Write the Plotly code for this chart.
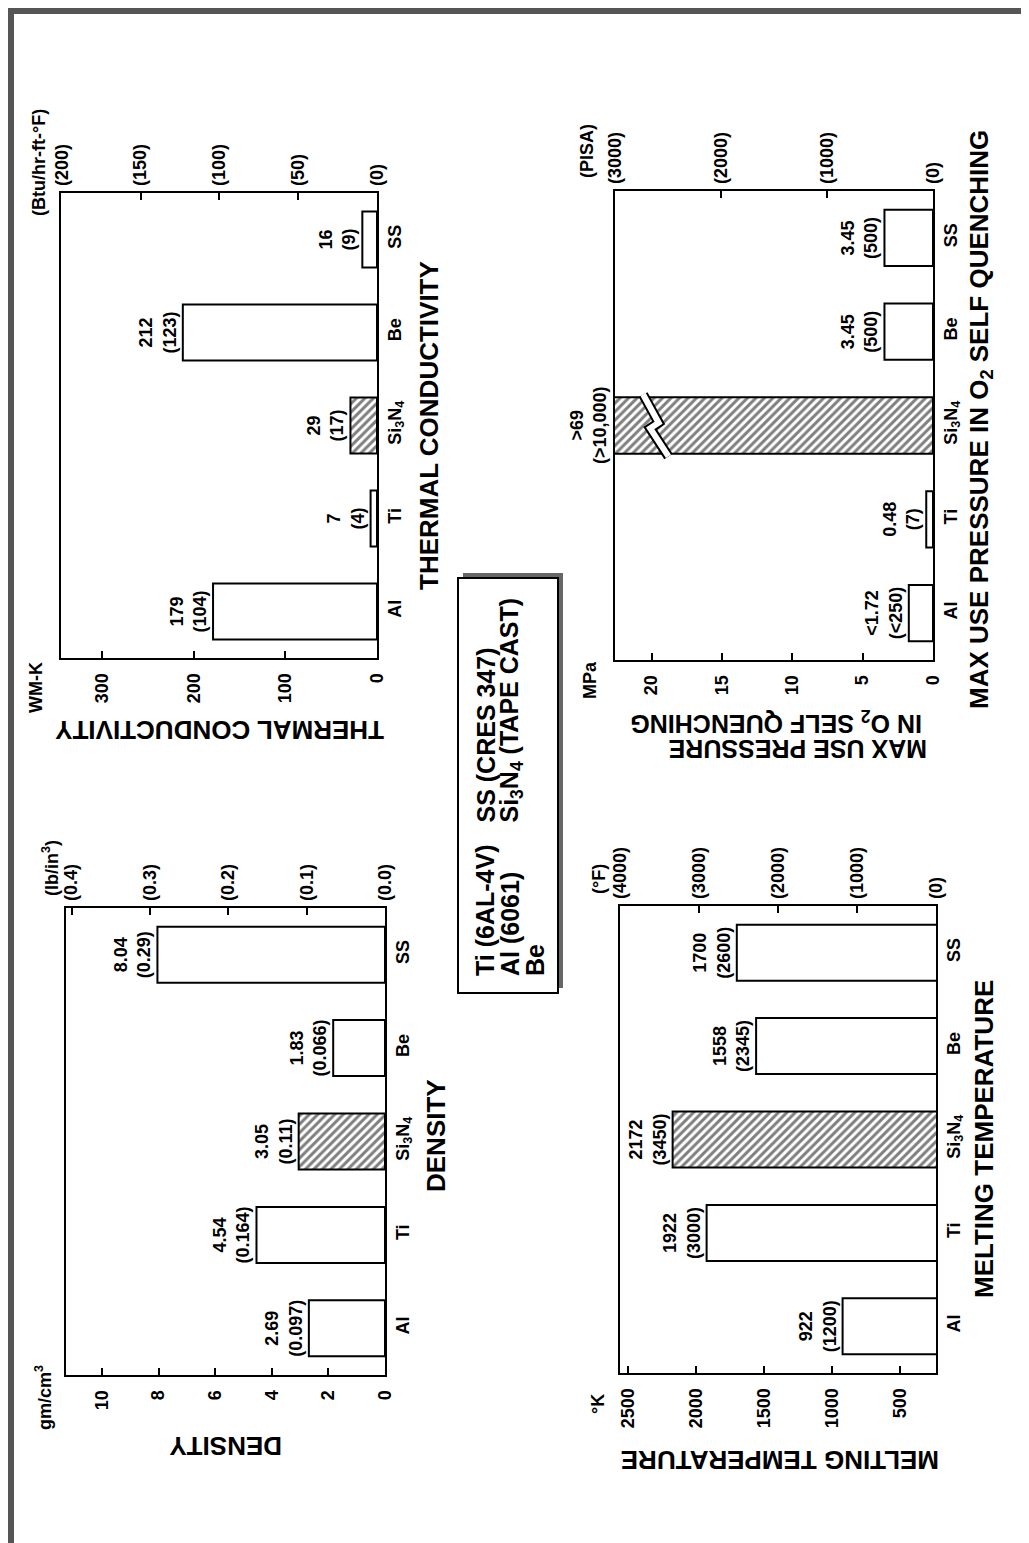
import plotly.graph_objects as go

W, H = 1029, 1543
FONT = "Liberation Sans"

# ---------------- data ----------------
materials = ["Al", "Ti", "Si<sub>3</sub>N<sub>4</sub>", "Be", "SS"]
cat_pos = [0, 1, 2, 3, 4]
hatch = ["", "", "/", "", ""]

density_gcc = [2.69, 4.54, 3.05, 1.83, 8.04]
density_lbin3 = [0.097, 0.164, 0.11, 0.066, 0.29]
density_txt = ["2.69", "4.54", "3.05", "1.83", "8.04"]
density_txt2 = ["(0.097)", "(0.164)", "(0.11)", "(0.066)", "(0.29)"]

conduct_wmk = [179, 7, 29, 212, 16]
conduct_btu = [104, 4, 17, 123, 9]
conduct_txt = ["179", "7", "29", "212", "16"]
conduct_txt2 = ["(104)", "(4)", "(17)", "(123)", "(9)"]

melt_k = [922, 1922, 2172, 1558, 1700]
melt_f = [1200, 3000, 3450, 2345, 2600]
melt_txt = ["922", "1922", "2172", "1558", "1700"]
melt_txt2 = ["(1200)", "(3000)", "(3450)", "(2345)", "(2600)"]

press_mpa = [1.72, 0.48, 69, 3.45, 3.45]
press_psi = [250, 7, 10000, 500, 500]
press_txt = ["<1.72", "0.48", ">69", "3.45", "3.45"]
press_txt2 = ["(<250)", "(7)", "(>10,000)", "(500)", "(500)"]
press_break = 19.7

# tick values / labels
conduct_ticks = [0, 100, 200, 300]
conduct_ticks2 = [0, 50, 100, 150, 200]
conduct_ticktext2 = ["(0)", "(50)", "(100)", "(150)", "(200)"]

density_ticks = [0, 2, 4, 6, 8, 10]
density_ticks2 = [0.0, 0.1, 0.2, 0.3, 0.4]
density_ticktext2 = ["(0.0)", "(0.1)", "(0.2)", "(0.3)", "(0.4)"]

melt_ticks = [500, 1000, 1500, 2000, 2500]
melt_ticks2 = [0, 1000, 2000, 3000, 4000]
melt_ticktext2 = ["(0)", "(1000)", "(2000)", "(3000)", "(4000)"]

press_ticks = [0, 5, 10, 15, 20]
press_ticks2 = [0, 1000, 2000, 3000]
press_ticktext2 = ["(0)", "(1000)", "(2000)", "(3000)"]


def fx(px):
    return px / W


def fy(py):
    return 1 - py / H


def bold(size):
    return dict(family=FONT, size=size, color="black", weight="bold")


panels = [
    dict(box=(53, 185, 369, 650), vals=conduct_wmk, vals2=conduct_btu,
         txt=conduct_txt, txt2=conduct_txt2, rng=[345, 0], rng2=[200.5, 0],
         ticks=conduct_ticks, ticks2=conduct_ticks2, ticktext2=conduct_ticktext2,
         textpos=["outside"] * 5),
    dict(box=(607, 183, 925, 652), vals=press_mpa, vals2=press_psi,
         txt=press_txt, txt2=press_txt2, rng=[22.6, 0], rng2=[3005, 0],
         ticks=press_ticks, ticks2=press_ticks2, ticktext2=press_ticktext2,
         textpos=["outside", "outside", "none", "outside", "outside"]),
    dict(box=(58, 900, 377, 1367), vals=density_gcc, vals2=density_lbin3,
         txt=density_txt, txt2=density_txt2, rng=[11.27, 0], rng2=[11.27 / 27.68, 0],
         ticks=density_ticks, ticks2=density_ticks2, ticktext2=density_ticktext2,
         textpos=["outside"] * 5),
    dict(box=(612, 898, 928, 1365), vals=melt_k, vals2=melt_f,
         txt=melt_txt, txt2=melt_txt2, rng=[2559, 235], rng2=[4002, 0],
         ticks=melt_ticks, ticks2=melt_ticks2, ticktext2=melt_ticktext2,
         textpos=["outside"] * 5),
]

fig = go.Figure()
layout = dict(width=W, height=H, autosize=False, margin=dict(l=0, r=0, t=0, b=0),
              paper_bgcolor="white", plot_bgcolor="white", showlegend=False,
              font=dict(family=FONT, color="black"))

for i, p in enumerate(panels, start=1):
    sfx = "" if i == 1 else str(i)
    s2 = str(i + 4)
    x0, y0, x1, y1 = p["box"]
    labels = [a + "<br>" + b for a, b in zip(p["txt"], p["txt2"])]
    fig.add_trace(go.Bar(
        x=p["vals"], y=cat_pos, orientation="h", width=0.6,
        xaxis="x" + sfx, yaxis="y" + sfx,
        marker=dict(color="white", line=dict(color="black", width=2),
                    pattern=dict(shape=hatch, fgcolor="black", bgcolor="white",
                                 size=6, solidity=0.5)),
        text=labels, textposition=p["textpos"], textangle=-90,
        constraintext="none", textfont=bold(18), hoverinfo="skip"))
    fig.add_trace(go.Scatter(
        x=p["vals2"], y=cat_pos, xaxis="x" + s2, yaxis="y" + sfx,
        mode="markers", marker=dict(opacity=0), hoverinfo="skip"))

    layout["xaxis" + sfx] = dict(
        domain=[fx(x0), fx(x1)], range=p["rng"], anchor="y" + sfx, side="bottom",
        showline=True, linecolor="black", linewidth=2, mirror=True,
        ticks="inside", ticklen=7, tickwidth=2, tickcolor="black",
        tickmode="array", tickvals=p["ticks"], ticktext=[str(t) for t in p["ticks"]],
        tickangle=-90, tickfont=bold(18), ticklabelstandoff=6,
        showgrid=False, zeroline=False, automargin=False, fixedrange=True)
    layout["xaxis" + s2] = dict(
        overlaying="x" + sfx, anchor="y" + sfx, side="top", range=p["rng2"],
        showline=False, ticks="inside", ticklen=7, tickwidth=2, tickcolor="black",
        tickmode="array", tickvals=p["ticks2"], ticktext=p["ticktext2"],
        tickangle=-90, tickfont=bold(18), ticklabelstandoff=6,
        showgrid=False, zeroline=False, automargin=False, fixedrange=True)
    layout["yaxis" + sfx] = dict(
        domain=[fy(y1), fy(y0)], anchor="x" + sfx, side="right", range=[-0.5, 4.5],
        showline=True, linecolor="black", linewidth=2, mirror=True, ticks="",
        tickmode="array", tickvals=cat_pos, ticktext=materials, tickangle=-90,
        tickfont=bold(18), ticklabelstandoff=0,
        showgrid=False, zeroline=False, automargin=False, fixedrange=True)

# break mark on the off-scale Si3N4 pressure bar
zz_x = [press_break + 0.9, press_break - 0.2, press_break + 0.4, press_break - 0.9]
zz_y = [2.33, 2.03, 1.97, 1.67]
fig.add_trace(go.Scatter(x=zz_x, y=zz_y, xaxis="x2", yaxis="y2", mode="lines",
                         line=dict(color="black", width=10), hoverinfo="skip"))
fig.add_trace(go.Scatter(x=zz_x, y=zz_y, xaxis="x2", yaxis="y2", mode="lines",
                         line=dict(color="white", width=6), hoverinfo="skip"))

ann = []


def note(text, x, y, angle, size, xanchor="center", yanchor="middle"):
    ann.append(dict(text=text, x=fx(x), y=fy(y), xref="paper", yref="paper",
                    showarrow=False, textangle=angle, font=bold(size),
                    xanchor=xanchor, yanchor=yanchor))


# label of the off-scale bar
ann.append(dict(text=press_txt[2] + "<br>" + press_txt2[2], x=panels[1]["rng"][0], y=2,
                xref="x2", yref="y2", showarrow=False, textangle=-90, font=bold(18),
                xanchor="right", yanchor="middle", xshift=-3))

# unit labels
note("WM-K", 28, 680, -90, 18)
note("gm/cm<sup>3</sup>", 35, 1390, -90, 18)
note("°K", 590, 1396, -90, 18)
note("MPa", 582, 672, -90, 18)
note("(Btu/hr-ft-°F)", 31, 155, -90, 18)
note("(lb/in<sup>3</sup>)", 42, 890, -90, 18, yanchor="bottom")
note("(PISA)", 579, 172, -90, 18, yanchor="bottom")
note("(°F)", 591, 888, -90, 18, yanchor="bottom")

# titles along category side
note("THERMAL CONDUCTIVITY", 421, 418, -90, 26)
note("DENSITY", 428, 1128, -90, 26)
note("MAX USE PRESSURE IN O<sub>2</sub> SELF QUENCHING", 972, 412, -90, 26)
note("MELTING TEMPERATURE", 976, 1131, -90, 26)

# value-axis titles (upside down)
note("THERMAL CONDUCTIVITY", 212, 722, 180, 26)
note("DENSITY", 218, 1438, 180, 26)
note("MAX USE PRESSURE", 790, 741, 180, 25)
note("IN O<sub>2</sub> SELF QUENCHING", 768, 714, 180, 25)
note("MELTING TEMPERATURE", 772, 1452, 180, 26)

# material key
note("Ti (6AL-4V)", 477, 970, -90, 25, yanchor="bottom")
note("Al (6061)", 502, 970, -90, 25, yanchor="bottom")
note("Be", 527, 970, -90, 25, yanchor="bottom")
note("SS (CRES 347)", 477, 817, -90, 25, yanchor="bottom")
note("Si<sub>3</sub>N<sub>4</sub> (TAPE CAST)", 502, 817, -90, 25, yanchor="bottom")

shapes = [
    # key box shadow + box
    dict(type="rect", xref="paper", yref="paper", x0=fx(455), x1=fx(555), y0=fy(980), y1=fy(565),
         fillcolor="#666666", line=dict(width=0), layer="below"),
    dict(type="rect", xref="paper", yref="paper", x0=fx(450), x1=fx(550), y0=fy(985), y1=fy(570),
         fillcolor="white", line=dict(color="black", width=2), layer="below"),
    # page frame
    dict(type="line", xref="paper", yref="paper", x0=0, x1=1, y0=fy(3), y1=fy(3),
         line=dict(color="#555555", width=6)),
    dict(type="line", xref="paper", yref="paper", x0=fx(3), x1=fx(3), y0=0, y1=1,
         line=dict(color="#555555", width=6)),
    dict(type="line", xref="paper", yref="paper", x0=fx(1018), x1=fx(1018), y0=0, y1=1,
         line=dict(color="#555555", width=8)),
    dict(type="line", xref="paper", yref="paper", x0=fx(200), x1=1, y0=fy(1540), y1=fy(1540),
         line=dict(color="#333333", width=4)),
]

layout["annotations"] = ann
layout["shapes"] = shapes
fig.update_layout(**layout)
fig.write_html("out.html")
